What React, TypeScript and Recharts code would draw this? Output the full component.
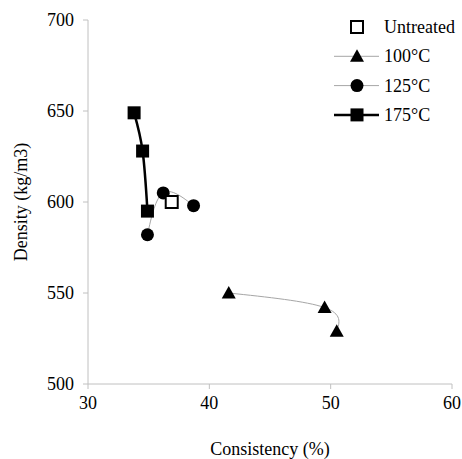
import React from 'react';
import { ComposedChart, Line, XAxis, YAxis, Legend } from 'recharts';

// Consistency (%) vs density (kg/m3) per treatment
const untreatedX = [36.9];
const untreatedY = [600];
const t100X = [41.6, 49.5, 50.5];
const t100Y = [550, 542, 529];
const t125X = [34.9, 36.2, 38.7];
const t125Y = [582, 605, 598];
const t175X = [33.8, 34.5, 34.9];
const t175Y = [649, 628, 595];

const xTicks = [30, 40, 50, 60];
const yTicks = [500, 550, 600, 650, 700];
const seriesNames = ['Untreated', '100°C', '125°C', '175°C'];

const zip = (xs: number[], ys: number[]) => xs.map((x, i) => ({ x, y: ys[i] }));

const untreated = zip(untreatedX, untreatedY);
const s100 = zip(t100X, t100Y);
const s125 = zip(t125X, t125Y);
const s175 = zip(t175X, t175Y);

const FONT = "'Liberation Serif'";
const AXIS_GREY = '#c0c0c0';
const LINE_GREY = '#a6a6a6';

type Kind = 'open' | 'triangle' | 'circle' | 'square';

const Marker = ({ kind, cx, cy }: { kind: Kind; cx: number; cy: number }) => {
  if (kind === 'open') {
    return <rect x={cx - 6} y={cy - 6} width={12} height={12} fill="#fff" stroke="#000" strokeWidth={2} />;
  }
  if (kind === 'triangle') {
    return <path d={`M${cx},${cy - 7} L${cx + 7},${cy + 5.5} L${cx - 7},${cy + 5.5} Z`} fill="#000" />;
  }
  if (kind === 'circle') {
    return <circle cx={cx} cy={cy} r={6.5} fill="#000" />;
  }
  return <rect x={cx - 6.5} y={cy - 6.5} width={13} height={13} fill="#000" />;
};

const makeDot = (kind: Kind) => (props: any) => (
  <g key={`${kind}-${props.index}`}>
    <Marker kind={kind} cx={props.cx} cy={props.cy} />
  </g>
);

const legendKinds: Kind[] = ['open', 'triangle', 'circle', 'square'];
const legendLine: { stroke: string; width: number }[] = [
  { stroke: 'none', width: 0 },
  { stroke: LINE_GREY, width: 1 },
  { stroke: LINE_GREY, width: 1 },
  { stroke: '#000', width: 2.5 },
];

const textStyle = { fontFamily: FONT, fontSize: 18 };

const LegendBox = () => (
  <svg width={132} height={120}>
    {seriesNames.map((name, i) => {
      const cy = 15 + i * 29.3;
      return (
        <g key={name}>
          {legendLine[i].width > 0 && (
            <line x1={4} x2={49} y1={cy} y2={cy} stroke={legendLine[i].stroke} strokeWidth={legendLine[i].width} />
          )}
          <Marker kind={legendKinds[i]} cx={27} cy={cy} />
          <text x={54} y={cy + 6} style={textStyle} fill="#000">
            {name}
          </text>
        </g>
      );
    })}
  </svg>
);

const YLabel = (props: any) => {
  const vb = props.viewBox || { x: 0, y: 0, width: 0, height: 0 };
  const cx = vb.x + 27;
  const cy = vb.y + vb.height / 2;
  return (
    <text x={cx} y={cy} transform={`rotate(-90, ${cx}, ${cy})`} textAnchor="middle" style={textStyle} fill="#000">
      Density (kg/m3)
    </text>
  );
};

const XLabel = (props: any) => {
  const vb = props.viewBox || { x: 0, y: 0, width: 0, height: 0 };
  return (
    <text x={vb.x + vb.width / 2} y={vb.y + 71} textAnchor="middle" style={textStyle} fill="#000">
      Consistency (%)
    </text>
  );
};

export default function App() {
  const tickStyle = { style: textStyle, fontSize: 18, fill: '#000' };
  return (
    <div style={{ position: 'absolute', left: 0, top: 0, background: '#fff', fontFamily: FONT }}>
      <ComposedChart width={462} height={459} margin={{ top: 20, right: 10, bottom: 0, left: 0 }} style={{ fontFamily: FONT }}>
        <XAxis
          type="number"
          dataKey="x"
          domain={[30, 60]}
          ticks={xTicks}
          height={75}
          tickSize={5}
          tickMargin={7}
          stroke={AXIS_GREY}
          tick={tickStyle}
          tickLine={{ stroke: AXIS_GREY }}
          axisLine={{ stroke: AXIS_GREY }}
          label={<XLabel />}
          allowDataOverflow
        />
        <YAxis
          type="number"
          dataKey="y"
          domain={[500, 700]}
          ticks={yTicks}
          width={88}
          tickSize={5}
          tickMargin={9}
          stroke={AXIS_GREY}
          tick={tickStyle}
          tickLine={{ stroke: AXIS_GREY }}
          axisLine={{ stroke: AXIS_GREY }}
          label={<YLabel />}
          allowDataOverflow
        />
        <Legend
          layout="horizontal"
          verticalAlign="middle"
          align="center"
          content={() => <LegendBox />}
          wrapperStyle={{ position: 'absolute', left: 330, top: 12, width: 132, height: 120 }}
        />
        <Line
          data={s100}
          dataKey="y"
          type="natural"
          stroke={LINE_GREY}
          strokeWidth={1}
          dot={makeDot('triangle')}
          isAnimationActive={false}
        />
        <Line
          data={s125}
          dataKey="y"
          type="natural"
          stroke={LINE_GREY}
          strokeWidth={1}
          dot={makeDot('circle')}
          isAnimationActive={false}
        />
        <Line
          data={untreated}
          dataKey="y"
          type="linear"
          stroke="none"
          dot={makeDot('open')}
          isAnimationActive={false}
        />
        <Line
          data={s175}
          dataKey="y"
          type="natural"
          stroke="#000"
          strokeWidth={2.5}
          dot={makeDot('square')}
          isAnimationActive={false}
        />
      </ComposedChart>
    </div>
  );
}
